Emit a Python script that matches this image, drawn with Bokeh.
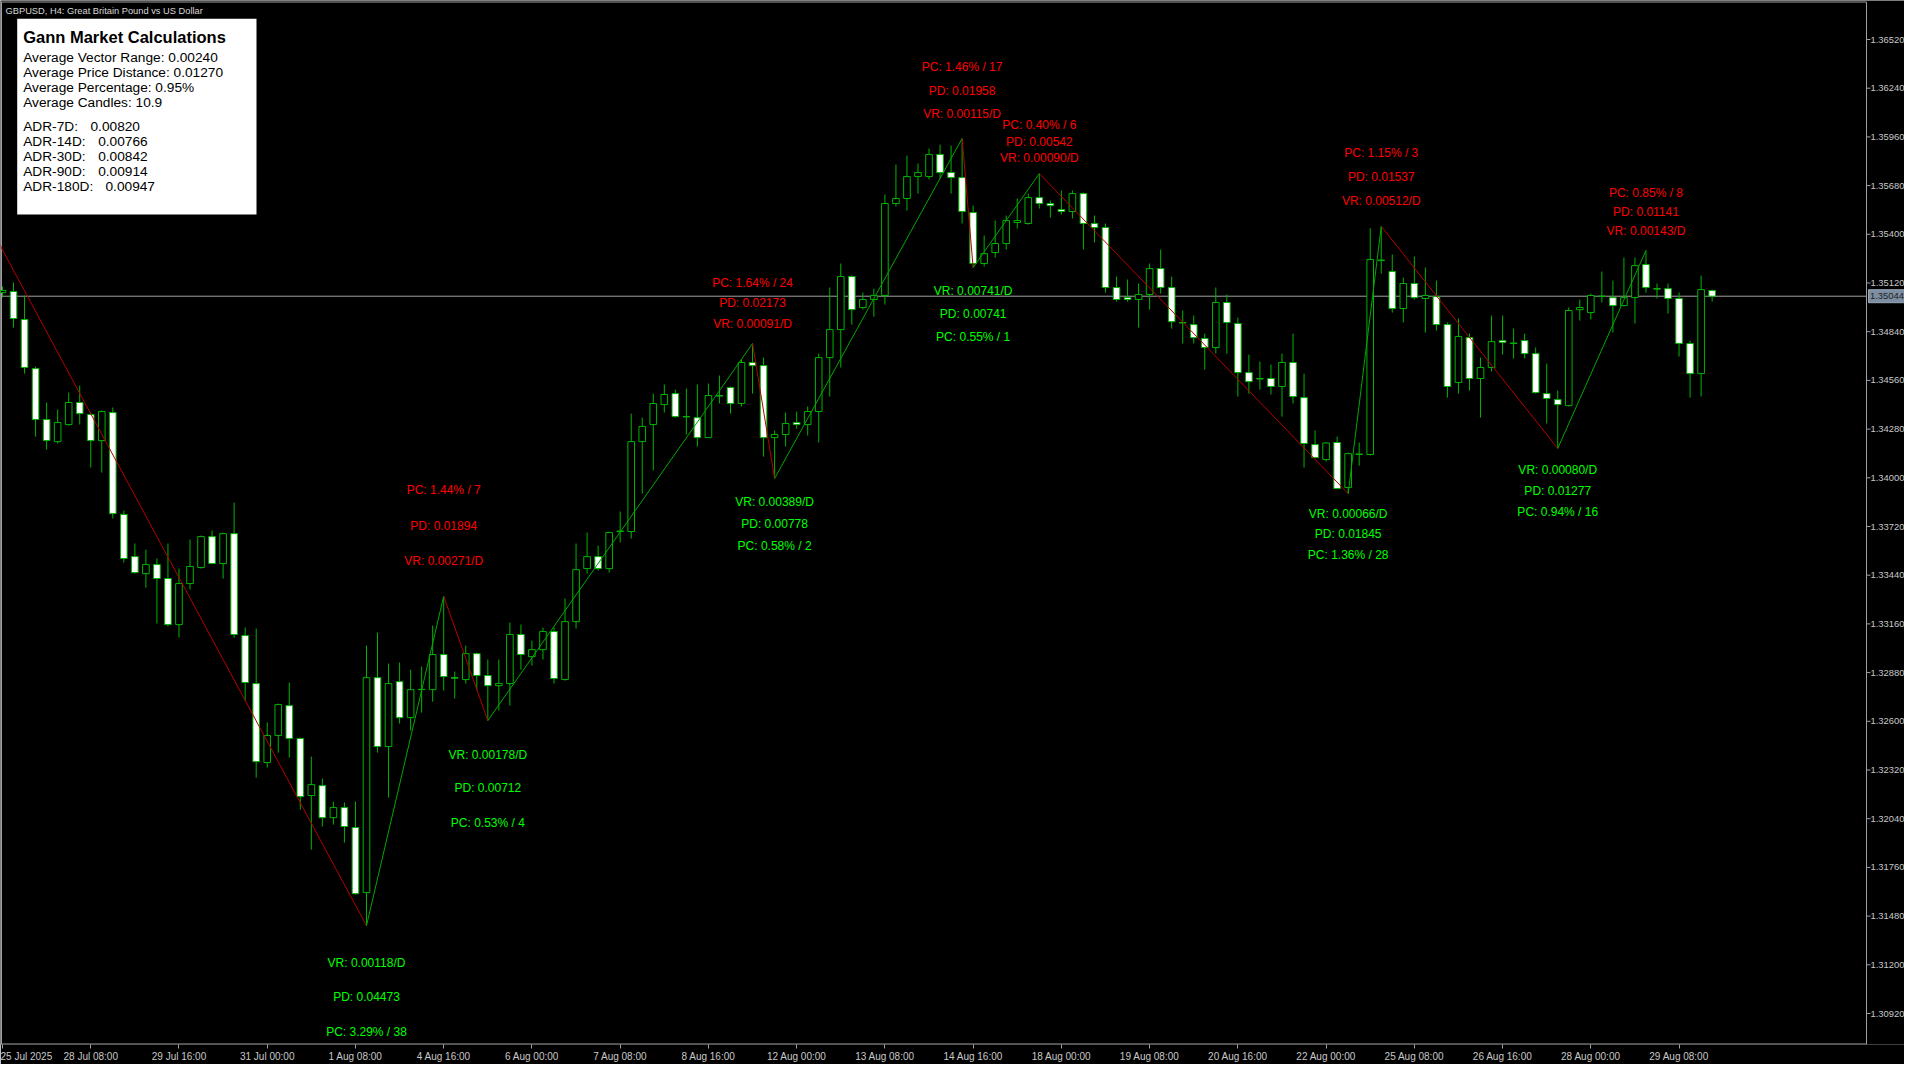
from bokeh.plotting import figure
from bokeh.models import ColumnDataSource, FixedTicker
from bokeh.embed import file_html
from bokeh.resources import INLINE
from bokeh.core.properties import value

# ---------------- data ----------------
TIME_TICKS = list(range(0, 153, 8))
TIME_LABELS = ["25 Jul 2025", "28 Jul 08:00", "29 Jul 16:00", "31 Jul 00:00", "1 Aug 08:00",
               "4 Aug 16:00", "6 Aug 00:00", "7 Aug 08:00", "8 Aug 16:00", "12 Aug 00:00",
               "13 Aug 08:00", "14 Aug 16:00", "18 Aug 00:00", "19 Aug 08:00", "20 Aug 16:00",
               "22 Aug 00:00", "25 Aug 08:00", "26 Aug 16:00", "28 Aug 00:00", "29 Aug 08:00"]
PRICE_TICKS = [1.30920, 1.31200, 1.31480, 1.31760, 1.32040, 1.32320, 1.32600, 1.32880,
               1.33160, 1.33440, 1.33720, 1.34000, 1.34280, 1.34560, 1.34840, 1.35120,
               1.35400, 1.35680, 1.35960, 1.36240, 1.36520]

OPEN = [1.35065, 1.35071, 1.34910, 1.34628, 1.34335, 1.34208, 1.34306, 1.34433, 1.34364, 1.34214,
        1.34375, 1.33789, 1.33547, 1.33449, 1.33501, 1.33421, 1.33156, 1.33392, 1.33484, 1.33662,
        1.33507, 1.33679, 1.33093, 1.32817, 1.32363, 1.32518, 1.32690, 1.32501, 1.32173, 1.32230,
        1.32046, 1.32104, 1.31989, 1.31615, 1.32851, 1.32455, 1.32828, 1.32621, 1.32782, 1.32782,
        1.32984, 1.32851, 1.32840, 1.32989, 1.32863, 1.32805, 1.32817, 1.33099, 1.32972, 1.33012,
        1.33116, 1.32840, 1.33173, 1.33478, 1.33547, 1.33478, 1.33691, 1.33691, 1.34208, 1.34306,
        1.34421, 1.34484, 1.34352, 1.34346, 1.34231, 1.34473, 1.34519, 1.34427, 1.34663, 1.34645,
        1.34231, 1.34249, 1.34318, 1.34306, 1.34381, 1.34691, 1.34852, 1.35157, 1.34979, 1.35025,
        1.35048, 1.35577, 1.35606, 1.35732, 1.35732, 1.35859, 1.35755, 1.35726, 1.35525, 1.35232,
        1.35295, 1.35347, 1.35468, 1.35462, 1.35611, 1.35577, 1.35542, 1.35531, 1.35634, 1.35462,
        1.35439, 1.35094, 1.35036, 1.35025, 1.35054, 1.35203, 1.35094, 1.34893, 1.34881, 1.34801,
        1.34749, 1.35008, 1.34887, 1.34605, 1.34571, 1.34571, 1.34525, 1.34663, 1.34461, 1.34191,
        1.34105, 1.34203, 1.33944, 1.34134, 1.34134, 1.35249, 1.35186, 1.34973, 1.35117, 1.35031,
        1.35042, 1.34881, 1.34548, 1.34806, 1.34571, 1.34634, 1.34789, 1.34772, 1.34789, 1.34714,
        1.34484, 1.34450, 1.34415, 1.34967, 1.34950, 1.35042, 1.35036, 1.34990, 1.35036, 1.35226,
        1.35088, 1.35088, 1.35031, 1.34772, 1.34599, 1.35077]
HIGH = [1.35100, 1.35123, 1.35048, 1.34640, 1.34433, 1.34392, 1.34490, 1.34530, 1.34375, 1.34387,
        1.34404, 1.33812, 1.33622, 1.33587, 1.33536, 1.33622, 1.33478, 1.33645, 1.33668, 1.33697,
        1.33685, 1.33858, 1.33139, 1.33133, 1.32593, 1.32702, 1.32823, 1.32506, 1.32397, 1.32271,
        1.32138, 1.32133, 1.32138, 1.33035, 1.33110, 1.32932, 1.32938, 1.32897, 1.32915, 1.33150,
        1.33319, 1.32886, 1.33035, 1.32995, 1.32955, 1.32955, 1.33168, 1.33156, 1.33064, 1.33139,
        1.33139, 1.33306, 1.33622, 1.33685, 1.33610, 1.33691, 1.33806, 1.34369, 1.34346, 1.34484,
        1.34536, 1.34507, 1.34513, 1.34536, 1.34542, 1.34588, 1.34525, 1.34680, 1.34772, 1.34691,
        1.34272, 1.34375, 1.34381, 1.34410, 1.34714, 1.35094, 1.35232, 1.35163, 1.35065, 1.35088,
        1.35629, 1.35801, 1.35853, 1.35807, 1.35893, 1.35916, 1.35910, 1.35951, 1.35565, 1.35393,
        1.35479, 1.35508, 1.35606, 1.35634, 1.35749, 1.35594, 1.35652, 1.35652, 1.35640, 1.35508,
        1.35462, 1.35157, 1.35140, 1.35117, 1.35232, 1.35312, 1.35157, 1.34962, 1.34933, 1.34829,
        1.35094, 1.35054, 1.34921, 1.34709, 1.34668, 1.34651, 1.34714, 1.34829, 1.34599, 1.34272,
        1.34205, 1.34237, 1.34145, 1.34203, 1.35435, 1.35446, 1.35284, 1.35151, 1.35272, 1.35209,
        1.35134, 1.34893, 1.34916, 1.34829, 1.34691, 1.34933, 1.34933, 1.34858, 1.34829, 1.34749,
        1.34657, 1.34502, 1.34979, 1.35025, 1.35059, 1.35186, 1.35134, 1.35266, 1.35266, 1.35307,
        1.35117, 1.35117, 1.35065, 1.34789, 1.35163, 1.35082]
LOW = [1.35037, 1.34864, 1.34599, 1.34237, 1.34162, 1.34197, 1.34300, 1.34306, 1.34059, 1.34030,
       1.33766, 1.33513, 1.33449, 1.33369, 1.33162, 1.33145, 1.33081, 1.33358, 1.33478, 1.33505,
       1.33421, 1.33081, 1.32719, 1.32276, 1.32334, 1.32420, 1.32391, 1.32092, 1.31862, 1.31995,
       1.32006, 1.31903, 1.31604, 1.31425, 1.32420, 1.32161, 1.32587, 1.32547, 1.32650, 1.32713,
       1.32777, 1.32731, 1.32817, 1.32777, 1.32604, 1.32662, 1.32690, 1.32897, 1.32920, 1.32955,
       1.32817, 1.32834, 1.33133, 1.33449, 1.33467, 1.33455, 1.33628, 1.33651, 1.33909, 1.34042,
       1.34375, 1.34346, 1.34249, 1.34180, 1.34229, 1.34427, 1.34369, 1.34410, 1.34484, 1.34122,
       1.33996, 1.34180, 1.34283, 1.34243, 1.34203, 1.34467, 1.34634, 1.34881, 1.34967, 1.34927,
       1.34996, 1.35560, 1.35537, 1.35634, 1.35715, 1.35721, 1.35634, 1.35462, 1.35209, 1.35215,
       1.35266, 1.35312, 1.35433, 1.35456, 1.35548, 1.35496, 1.35514, 1.35491, 1.35312, 1.35353,
       1.35065, 1.35013, 1.35013, 1.34864, 1.34967, 1.35059, 1.34858, 1.34772, 1.34772, 1.34622,
       1.34714, 1.34714, 1.34467, 1.34484, 1.34507, 1.34479, 1.34352, 1.34427, 1.34059, 1.34113,
       1.34093, 1.33935, 1.33909, 1.34070, 1.34128, 1.35174, 1.34950, 1.34893, 1.35025, 1.34835,
       1.34847, 1.34461, 1.34484, 1.34502, 1.34346, 1.34611, 1.34709, 1.34686, 1.34686, 1.34484,
       1.34312, 1.34169, 1.34410, 1.34904, 1.34910, 1.35008, 1.34835, 1.34985, 1.34887, 1.35065,
       1.35031, 1.34944, 1.34697, 1.34461, 1.34467, 1.35013]
CLOSE = [1.35077, 1.34916, 1.34634, 1.34335, 1.34214, 1.34318, 1.34433, 1.34369, 1.34214, 1.34381,
         1.33794, 1.33536, 1.33455, 1.33501, 1.33421, 1.33156, 1.33392, 1.33490, 1.33662, 1.33507,
         1.33679, 1.33099, 1.32823, 1.32368, 1.32518, 1.32696, 1.32501, 1.32167, 1.32236, 1.32046,
         1.32104, 1.31995, 1.31609, 1.32851, 1.32455, 1.32817, 1.32621, 1.32782, 1.32784, 1.32984,
         1.32857, 1.32848, 1.32989, 1.32863, 1.32805, 1.32817, 1.33099, 1.32984, 1.33012, 1.33116,
         1.32846, 1.33173, 1.33472, 1.33547, 1.33478, 1.33685, 1.33694, 1.34208, 1.34295, 1.34427,
         1.34479, 1.34352, 1.34350, 1.34231, 1.34473, 1.34470, 1.34427, 1.34663, 1.34645, 1.34231,
         1.34249, 1.34312, 1.34306, 1.34381, 1.34691, 1.34852, 1.35157, 1.34967, 1.35025, 1.35048,
         1.35577, 1.35606, 1.35732, 1.35755, 1.35859, 1.35755, 1.35726, 1.35531, 1.35232, 1.35289,
         1.35347, 1.35479, 1.35479, 1.35611, 1.35577, 1.35565, 1.35531, 1.35634, 1.35462, 1.35439,
         1.35094, 1.35025, 1.35025, 1.35054, 1.35203, 1.35094, 1.34898, 1.34890, 1.34806, 1.34749,
         1.35008, 1.34893, 1.34605, 1.34553, 1.34568, 1.34525, 1.34663, 1.34467, 1.34197, 1.34116,
         1.34200, 1.33938, 1.34139, 1.34137, 1.35255, 1.35252, 1.34973, 1.35117, 1.35036, 1.35048,
         1.34881, 1.34525, 1.34812, 1.34571, 1.34634, 1.34783, 1.34778, 1.34775, 1.34714, 1.34490,
         1.34456, 1.34421, 1.34962, 1.34979, 1.35048, 1.35045, 1.34990, 1.35036, 1.35220, 1.35094,
         1.35085, 1.35031, 1.34772, 1.34599, 1.35082, 1.35044]
LAST_PRICE = 1.35044

# zigzag pivots (candle index, price); the first one lies before the visible window
ZZ_INDEX = [-5, 33, 40, 44, 68, 70, 87, 88, 94, 122, 125, 141, 149]
ZZ_PRICE = [1.35899, 1.31425, 1.33319, 1.32604, 1.34772, 1.33996, 1.35951, 1.35209,
            1.35749, 1.33909, 1.35446, 1.34169, 1.35307]
SWING_VR = ["0.00118", "0.00271", "0.00178", "0.00091", "0.00389", "0.00115",
            "0.00741", "0.00090", "0.00066", "0.00512", "0.00080", "0.00143"]
SWING_PD = ["0.04473", "0.01894", "0.00712", "0.02173", "0.00778", "0.01958",
            "0.00741", "0.00542", "0.01845", "0.01537", "0.01277", "0.01141"]
SWING_PC = ["3.29%", "1.44%", "0.53%", "1.64%", "0.58%", "1.46%",
            "0.55%", "0.40%", "1.36%", "1.15%", "0.94%", "0.85%"]
SWING_BARS = [38, 7, 4, 24, 2, 17, 1, 6, 28, 3, 16, 8]

CHART_TITLE = "GBPUSD, H4:  Great Britain Pound vs US Dollar"
INFO_TITLE = "Gann Market Calculations"
INFO_LINES = ["Average Vector Range: 0.00240", "Average Price Distance: 0.01270",
              "Average Percentage: 0.95%", "Average Candles: 10.9"]
ADR_NAMES = ["ADR-7D:", "ADR-14D:", "ADR-30D:", "ADR-90D:", "ADR-180D:"]
ADR_VALUES = ["0.00820", "0.00766", "0.00842", "0.00914", "0.00947"]

# ---------------- layout ----------------
FRAME_W, FRAME_H = 1904, 1044
BAR_PX = 11.03                      # pixels per candle
PRICE_PX = 0.0028 / 48.7            # price per pixel
X_START = -2 / BAR_PX
X_END = X_START + FRAME_W / BAR_PX
Y_TOP = 1.36520 + 39 * PRICE_PX
Y_BOTTOM = Y_TOP - FRAME_H * PRICE_PX
SCALE_X = 1866                      # price-scale line (screen px)


def sx(px):
    return X_START + px / BAR_PX


def sy(py):
    return Y_TOP - py * PRICE_PX


LABEL_OFFSETS_PX = [[37, 71, 106], [-106, -70, -35], [34, 67, 102], [-61, -41, -20],
                    [24, 46, 68], [-71, -47, -24], [23, 46, 69], [-49, -32, -16],
                    [20, 40, 61], [-73, -49, -25], [22, 43, 64], [-57, -38, -19]]

FONT = "Liberation Sans"
WICK = "#00b400"
GREY = "#a0a0a0"

p = figure(frame_width=FRAME_W, frame_height=FRAME_H,
           x_range=(X_START, X_END), y_range=(Y_BOTTOM, Y_TOP),
           output_backend="svg", toolbar_location=None,
           background_fill_color="black", border_fill_color="black",
           min_border_left=0, min_border_top=0, min_border_right=0, min_border_bottom=0)
p.outline_line_color = None
p.xgrid.visible = False
p.ygrid.visible = False
p.yaxis.visible = False

# time axis (library axis)
xa = p.xaxis[0]
xa.ticker = FixedTicker(ticks=TIME_TICKS)
xa.major_label_overrides = {t: s for t, s in zip(TIME_TICKS, TIME_LABELS)}
xa.major_label_text_align = "left"
xa.axis_line_color = None
xa.major_tick_line_color = GREY
xa.minor_tick_line_color = None
xa.major_tick_in = 0
xa.major_tick_out = 4
xa.major_label_text_color = "#c8c8c8"
xa.major_label_text_font = FONT
xa.major_label_text_font_size = "10px"
xa.major_label_standoff = 2

# chart frame lines and price scale
bottom_line = sy(FRAME_H - 0.5)
p.segment(x0=[sx(0), sx(1), sx(SCALE_X), sx(0)],
          y0=[sy(1.5), sy(1.5), sy(1.5), bottom_line],
          x1=[sx(SCALE_X), sx(1), sx(SCALE_X), sx(SCALE_X)],
          y1=[sy(1.5), Y_BOTTOM, Y_BOTTOM, bottom_line],
          line_color=GREY, line_width=1)
p.segment(x0=[sx(SCALE_X)] * len(PRICE_TICKS), x1=[sx(SCALE_X + 4)] * len(PRICE_TICKS),
          y0=PRICE_TICKS, y1=PRICE_TICKS, line_color=GREY, line_width=1)
p.text(x=[sx(SCALE_X + 4)] * len(PRICE_TICKS), y=PRICE_TICKS,
       text=["%.5f" % t for t in PRICE_TICKS], text_color="#c8c8c8", text_align="left",
       text_baseline="middle", text_font=value(FONT), text_font_size="9.4px")

# last price line and tag
p.segment(x0=[sx(0)], x1=[sx(SCALE_X)], y0=[LAST_PRICE], y1=[LAST_PRICE],
          line_color=GREY, line_width=1)
p.quad(left=[sx(SCALE_X + 2)], right=[sx(1904)], top=[LAST_PRICE + 6.5 * PRICE_PX],
       bottom=[LAST_PRICE - 6.5 * PRICE_PX], fill_color="#7d8ea3", line_color="#9aa8b8")
p.text(x=[sx(SCALE_X + 3.5)], y=[LAST_PRICE], text=["%.5f" % LAST_PRICE], text_color="#1e1e1e",
       text_align="left", text_baseline="middle", text_font=value(FONT), text_font_size="9.4px")

# candles
idx = list(range(len(OPEN)))
bull = [c >= o for o, c in zip(OPEN, CLOSE)]
src = ColumnDataSource(dict(
    x=idx, high=HIGH, low=LOW,
    top=[max(o, c) for o, c in zip(OPEN, CLOSE)],
    bottom=[min(o, c) for o, c in zip(OPEN, CLOSE)],
    fill=["black" if b else "white" for b in bull]))
p.segment(x0="x", y0="low", x1="x", y1="high", source=src, line_color=WICK, line_width=1)
p.vbar(x="x", width=0.6, top="top", bottom="bottom", fill_color="fill", line_color=WICK,
       line_width=1, source=src)

# zigzag
zz = dict(x0=[], y0=[], x1=[], y1=[], c=[])
for j in range(len(ZZ_INDEX) - 1):
    zz["x0"].append(ZZ_INDEX[j]); zz["y0"].append(ZZ_PRICE[j])
    zz["x1"].append(ZZ_INDEX[j + 1]); zz["y1"].append(ZZ_PRICE[j + 1])
    zz["c"].append("#b40000" if ZZ_PRICE[j + 1] < ZZ_PRICE[j] else "#00a800")
p.segment(x0="x0", y0="y0", x1="x1", y1="y1", line_color="c", line_width=1,
          source=ColumnDataSource(zz))

# swing labels
lab = dict(x=[], y=[], t=[], c=[])
for j in range(1, len(ZZ_INDEX)):
    k = j - 1
    vr = "VR: %s/D" % SWING_VR[k]
    pd_ = "PD: %s" % SWING_PD[k]
    pc = "PC: %s / %d" % (SWING_PC[k], SWING_BARS[k])
    low = ZZ_PRICE[j] < ZZ_PRICE[j - 1]
    texts = [vr, pd_, pc] if low else [pc, pd_, vr]
    col = "#00ff00" if low else "#ff0000"
    for t, off in zip(texts, LABEL_OFFSETS_PX[k]):
        lab["x"].append(ZZ_INDEX[j])
        lab["y"].append(ZZ_PRICE[j] - off * PRICE_PX)
        lab["t"].append(t)
        lab["c"].append(col)
p.text(x="x", y="y", text="t", text_color="c", source=ColumnDataSource(lab),
       text_align="center", text_baseline="middle", text_font=value(FONT),
       text_font_size="12px")

# chart title
p.text(x=[sx(5)], y=[sy(10)], text=[CHART_TITLE], text_color="#d8d8d8",
       text_align="left", text_baseline="middle", text_font=value(FONT), text_font_size="9.3px")

# info box
p.quad(left=[sx(16.7)], right=[sx(256)], top=[sy(18.3)], bottom=[sy(214)],
       fill_color="white", line_color=None)
p.text(x=[sx(22.7)], y=[sy(36.7)], text=[INFO_TITLE], text_color="black",
       text_align="left", text_baseline="middle", text_font=value(FONT),
       text_font_style="bold", text_font_size="16.5px")
p.text(x=[sx(22.7)] * len(INFO_LINES), y=[sy(57.3 + 15 * i) for i in range(len(INFO_LINES))],
       text=INFO_LINES, text_color="black", text_align="left", text_baseline="middle",
       text_font=value(FONT), text_font_size="13.7px")
adr_y = [sy(125.7 + 15 * i) for i in range(len(ADR_NAMES))]
p.text(x=[sx(22.7)] * len(ADR_NAMES), y=adr_y, text=ADR_NAMES, text_color="black",
       text_align="left", text_baseline="middle", text_font=value(FONT), text_font_size="13.7px")
p.text(x=[sx(v) for v in (90, 97.7, 97.7, 97.7, 105)], y=adr_y, text=ADR_VALUES,
       text_color="black", text_align="left", text_baseline="middle", text_font=value(FONT),
       text_font_size="13.7px")

open("out.html", "w").write(file_html(p, INLINE))
